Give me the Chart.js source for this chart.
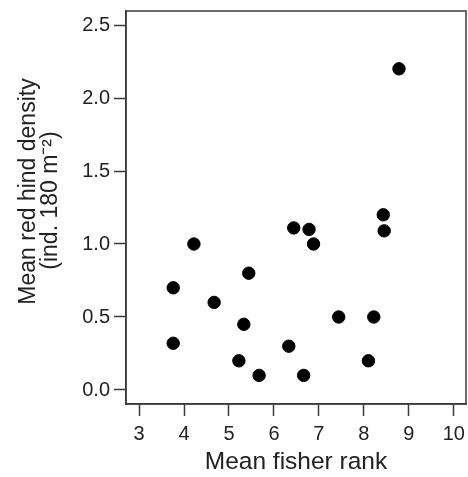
<!DOCTYPE html>
<html>
<head>
<meta charset="utf-8">
<script src="https://cdn.jsdelivr.net/npm/chart.js@4.4.1/dist/chart.umd.min.js"></script>
<style>
html,body{margin:0;padding:0;background:#fff;}
#wrap{width:468px;height:477px;}
</style>
</head>
<body>
<div id="wrap"><canvas id="c" width="468" height="477"></canvas></div>
<script>
const fisherRank = [6.44, 6.78, 8.45, 8.43, 4.22, 6.88, 5.44, 3.76, 4.67, 5.33, 7.44, 8.22, 3.76, 6.33, 5.22, 8.10, 5.67, 6.66, 8.78];
const hindDensity = [1.11, 1.10, 1.09, 1.20, 1.00, 1.00, 0.80, 0.70, 0.60, 0.45, 0.50, 0.50, 0.32, 0.30, 0.20, 0.20, 0.10, 0.10, 2.20];
const xTicks = [3, 4, 5, 6, 7, 8, 9, 10];
const yTicks = [0.0, 0.5, 1.0, 1.5, 2.0, 2.5];
const xTitle = 'Mean fisher rank';
const yTitleLines = ['Mean red hind density', '(ind. 180 m\u207B\u00B2)'];

const points = fisherRank.map((x, i) => ({x: x, y: hindDensity[i]}));
const FONT = "'Liberation Sans', Arial, Helvetica, sans-serif";
const AX = '#3a3a3a';
const TXT = '#222';

const boxPlugin = {
  id: 'box',
  afterDraw(chart) {
    const a = chart.chartArea, ctx = chart.ctx;
    ctx.save();
    ctx.strokeStyle = AX;
    ctx.lineWidth = 1.5;
    ctx.strokeRect(a.left, a.top, a.right - a.left, a.bottom - a.top);
    // y axis title (two lines, rotated)
    ctx.fillStyle = TXT;
    ctx.font = '23px ' + FONT;
    ctx.textAlign = 'center';
    ctx.textBaseline = 'middle';
    const cy = (a.top + a.bottom) / 2;
    const pos = [{x: 29, y: cy - 16}, {x: 51, y: cy - 7}];
    yTitleLines.forEach((t, i) => {
      ctx.save();
      ctx.translate(pos[i].x, pos[i].y);
      ctx.rotate(-Math.PI / 2);
      ctx.fillText(t, 0, 0);
      ctx.restore();
    });
    ctx.restore();
  }
};

new Chart(document.getElementById('c'), {
  type: 'scatter',
  data: {
    datasets: [{
      data: points,
      backgroundColor: '#000',
      borderColor: '#000',
      pointRadius: 6.2,
      pointHoverRadius: 6.2
    }]
  },
  plugins: [boxPlugin],
  options: {
    responsive: false,
    animation: false,
    events: [],
    layout: {autoPadding: false, padding: {top: 11, right: 2, left: 0, bottom: 0}},
    plugins: {legend: {display: false}, tooltip: {enabled: false}},
    scales: {
      x: {
        type: 'linear',
        min: 2.71, max: 10.27,
        afterBuildTicks: s => { s.ticks = xTicks.map(v => ({value: v})); },
        afterFit: s => { s.height = 73; s.paddingLeft = 0; s.paddingRight = 0; },
        grid: {drawOnChartArea: false, tickLength: 12, tickColor: AX, tickWidth: 1.5},
        border: {display: true, color: AX, width: 1.5},
        ticks: {color: TXT, font: {family: FONT, size: 20}, padding: 6, maxRotation: 0, autoSkip: false},
        title: {display: true, text: xTitle, color: TXT, font: {family: FONT, size: 24.5}, padding: {top: 0, bottom: 0}}
      },
      y: {
        type: 'linear',
        min: -0.096, max: 2.596,
        afterBuildTicks: s => { s.ticks = yTicks.map(v => ({value: v})); },
        afterFit: s => { s.width = 126; s.paddingTop = 0; s.paddingBottom = 0; },
        grid: {drawOnChartArea: false, tickLength: 12, tickColor: AX, tickWidth: 1.5},
        border: {display: true, color: AX, width: 1.5},
        ticks: {color: TXT, font: {family: FONT, size: 20}, padding: 4, callback: v => v.toFixed(1), autoSkip: false},
        title: {display: false}
      }
    }
  }
});
</script>
</body>
</html>
